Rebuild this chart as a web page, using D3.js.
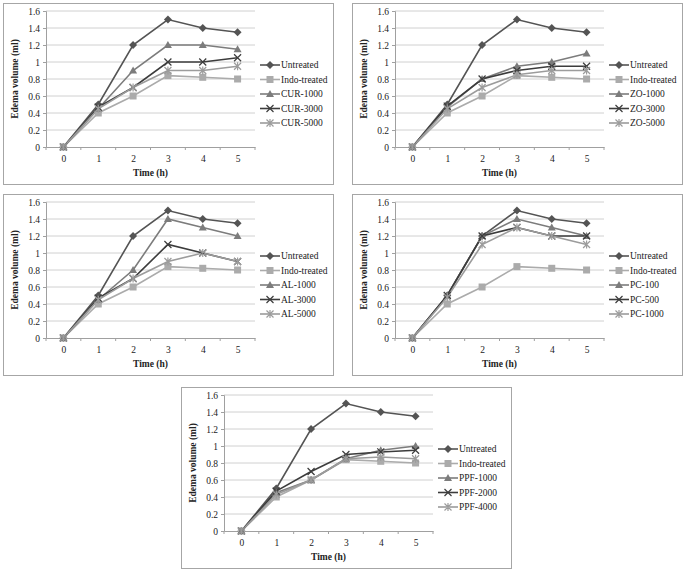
<!DOCTYPE html>
<html><head><meta charset="utf-8">
<script src="https://cdn.jsdelivr.net/npm/d3@7"></script>
<style>body{margin:0;background:#fff}svg{display:block}</style>
</head><body>
<script>
const timeLabels = ["0","1","2","3","4","5"];
const yTicks = [0,0.2,0.4,0.6,0.8,1,1.2,1.4,1.6];
const untreated = [0,0.5,1.2,1.5,1.4,1.35];
const indoTreated = [0,0.4,0.6,0.84,0.82,0.8];

const curNames = ["CUR-1000","CUR-3000","CUR-5000"];
const cur1000 = [0,0.45,0.9,1.2,1.2,1.15];
const cur3000 = [0,0.47,0.7,1.0,1.0,1.05];
const cur5000 = [0,0.45,0.7,0.9,0.9,0.95];

const zoNames = ["ZO-1000","ZO-3000","ZO-5000"];
const zo1000 = [0,0.47,0.8,0.95,1.0,1.1];
const zo3000 = [0,0.48,0.8,0.9,0.95,0.95];
const zo5000 = [0,0.45,0.7,0.85,0.9,0.9];

const alNames = ["AL-1000","AL-3000","AL-5000"];
const al1000 = [0,0.45,0.8,1.4,1.3,1.2];
const al3000 = [0,0.47,0.7,1.1,1.0,0.9];
const al5000 = [0,0.45,0.7,0.9,1.0,0.9];

const pcNames = ["PC-100","PC-500","PC-1000"];
const pc100 = [0,0.5,1.2,1.4,1.3,1.2];
const pc500 = [0,0.5,1.2,1.3,1.2,1.2];
const pc1000 = [0,0.48,1.1,1.3,1.2,1.1];

const ppfNames = ["PPF-1000","PPF-2000","PPF-4000"];
const ppf1000 = [0,0.45,0.6,0.85,0.95,1.0];
const ppf2000 = [0,0.47,0.7,0.9,0.93,0.95];
const ppf4000 = [0,0.43,0.6,0.85,0.87,0.85];

const W = 685, H = 573;
const svg = d3.select("body").append("svg").attr("width", W).attr("height", H);
svg.append("rect").attr("width", W).attr("height", H).attr("fill", "#fff");

const styles = [
  {color:"#545454", marker:"diamond"},
  {color:"#ababab", marker:"square"},
  {color:"#7c7c7c", marker:"triangle"},
  {color:"#3c3c3c", marker:"x"},
  {color:"#9c9c9c", marker:"star"}
];
const FONT = "'Liberation Serif','Times New Roman',serif";

function drawMarker(g, type, color, x, y) {
  if (type === "diamond") {
    g.append("path").attr("d", `M${x},${y-4}L${x+4},${y}L${x},${y+4}L${x-4},${y}Z`).attr("fill", color);
  } else if (type === "square") {
    g.append("rect").attr("x", x-3.5).attr("y", y-3.5).attr("width", 7).attr("height", 7).attr("fill", color);
  } else if (type === "triangle") {
    g.append("path").attr("d", `M${x},${y-4}L${x+4},${y+3}L${x-4},${y+3}Z`).attr("fill", color);
  } else if (type === "x") {
    g.append("path").attr("d", `M${x-3.5},${y-3.5}L${x+3.5},${y+3.5}M${x-3.5},${y+3.5}L${x+3.5},${y-3.5}`).attr("stroke", color).attr("stroke-width", 1.2);
  } else if (type === "star") {
    g.append("path").attr("d", `M${x-3.5},${y-3.5}L${x+3.5},${y+3.5}M${x-3.5},${y+3.5}L${x+3.5},${y-3.5}M${x},${y-4}L${x},${y+4}`).attr("stroke", color).attr("stroke-width", 1.2);
  }
}

function drawPanel(bx, by, names, seriesList) {
  const g = svg.append("g").attr("transform", `translate(${bx},${by})`);
  g.append("rect").attr("x", 0.5).attr("y", 0.5).attr("width", 330).attr("height", 181)
    .attr("fill", "#fff").attr("stroke", "#a6a6a6").attr("stroke-width", 1);
  const pl = 43, pw = 209, pt = 8, ph = 136;
  const x = d3.scalePoint().domain(timeLabels).range([pl, pl+pw]).padding(0.5);
  const xb = d3.scaleBand().domain(timeLabels).range([pl, pl+pw]);
  const y = d3.scaleLinear().domain([0,1.6]).range([pt+ph, pt]);

  g.append("g").selectAll("line").data(yTicks.slice(1)).join("line")
    .attr("x1", pl).attr("x2", pl+pw).attr("y1", d=>y(d)).attr("y2", d=>y(d))
    .attr("stroke", "#d0d0d0").attr("stroke-width", 1);

  const ya = g.append("g").attr("transform", `translate(${pl},0)`)
    .call(d3.axisLeft(y).tickValues(yTicks).tickSize(3).tickFormat(d3.format("~g")));
  ya.select(".domain").attr("stroke", "#a0a0a0");
  ya.selectAll(".tick line").attr("stroke", "#a0a0a0");
  ya.selectAll("text").attr("font-family", FONT).attr("font-size", 9.5).attr("fill", "#222").attr("x", -6);

  const xa = g.append("g").attr("transform", `translate(0,${pt+ph})`)
    .call(d3.axisBottom(x).tickSize(0).tickPadding(8));
  xa.select(".domain").attr("stroke", "#a0a0a0");
  xa.selectAll("text").attr("font-family", FONT).attr("font-size", 9.5).attr("fill", "#222");
  g.append("g").selectAll("line").data(timeLabels).join("line")
    .attr("x1", d=>xb(d)).attr("x2", d=>xb(d)).attr("y1", pt+ph).attr("y2", pt+ph+3)
    .attr("stroke", "#a0a0a0");
  g.append("line").attr("x1", pl+pw).attr("x2", pl+pw).attr("y1", pt+ph).attr("y2", pt+ph+3).attr("stroke", "#a0a0a0");

  g.append("text").attr("x", pl+pw/2).attr("y", pt+ph+29).attr("text-anchor", "middle")
    .attr("font-family", FONT).attr("font-weight", "bold").attr("font-size", 9.5).attr("fill", "#222").text("Time (h)");
  g.append("text").attr("transform", `translate(15,${pt+ph/2}) rotate(-90)`).attr("text-anchor", "middle")
    .attr("font-family", FONT).attr("font-weight", "bold").attr("font-size", 9.5).attr("fill", "#222").text("Edema volume (ml)");

  const allNames = ["Untreated","Indo-treated"].concat(names);
  const allSeries = [untreated, indoTreated].concat(seriesList);
  const line = d3.line().x((d,i)=>x(timeLabels[i])).y(d=>y(d));
  allSeries.forEach((s, k) => {
    const st = styles[k];
    g.append("path").datum(s).attr("d", line).attr("fill", "none").attr("stroke", st.color).attr("stroke-width", 1.6);
  });
  allSeries.forEach((s, k) => {
    const st = styles[k];
    s.forEach((v, i) => drawMarker(g, st.marker, st.color, x(timeLabels[i]), y(v)));
  });

  const lx = 257, ly0 = 62, ldy = 14.5;
  allNames.forEach((n, k) => {
    const st = styles[k];
    const yy = ly0 + k*ldy;
    g.append("line").attr("x1", lx).attr("x2", lx+20).attr("y1", yy).attr("y2", yy).attr("stroke", st.color).attr("stroke-width", 1.6);
    drawMarker(g, st.marker, st.color, lx+10, yy);
    g.append("text").attr("x", lx+21).attr("y", yy).attr("dy", "0.35em")
      .attr("font-family", FONT).attr("font-size", 9.5).attr("fill", "#222").text(n);
  });
}

drawPanel(3, 3, curNames, [cur1000, cur3000, cur5000]);
drawPanel(352, 3, zoNames, [zo1000, zo3000, zo5000]);
drawPanel(3, 194, alNames, [al1000, al3000, al5000]);
drawPanel(352, 194, pcNames, [pc100, pc500, pc1000]);
drawPanel(181, 387, ppfNames, [ppf1000, ppf2000, ppf4000]);
</script>
</body></html>
